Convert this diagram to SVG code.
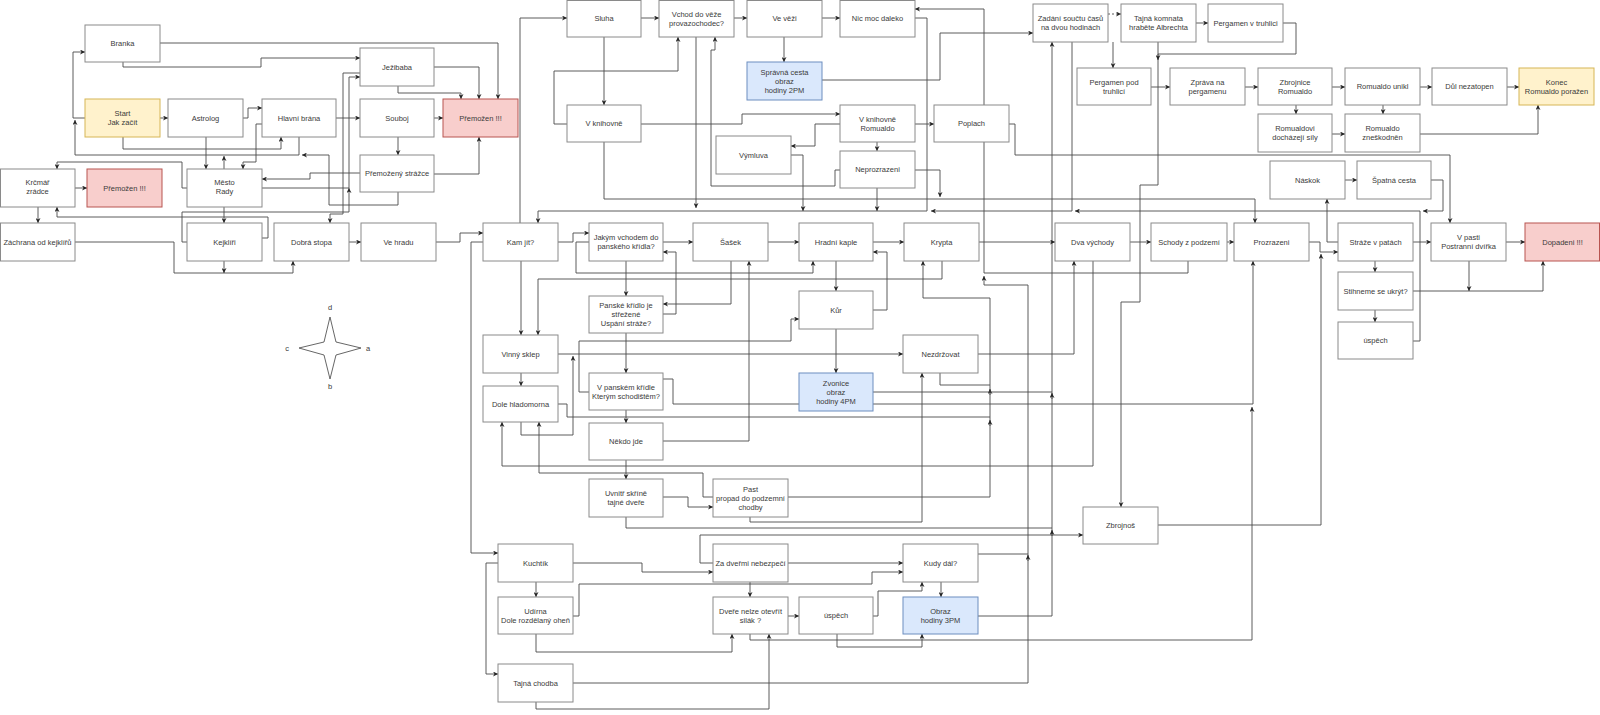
<svg xmlns="http://www.w3.org/2000/svg" width="1600" height="715" viewBox="0 0 1600 715">
<defs>
<marker id="a" viewBox="0 0 10 10" refX="10" refY="5" markerWidth="5" markerHeight="5" markerUnits="userSpaceOnUse" orient="auto"><path d="M0,0 L10,5 L0,10 L3,5 z" fill="#222"/></marker>
<style>
.node rect{fill:#fff;stroke:#8a8a8a;stroke-width:1}
.node.y rect{fill:#fff2cc;stroke:#d6b656}
.node.r rect{fill:#f8cecc;stroke:#b85450}
.node.b rect{fill:#dae8fc;stroke:#6c8ebf}
text{font-family:"Liberation Sans",Arial,sans-serif;font-size:7.5px;fill:#3a3a3a;text-anchor:middle}
#connectors path{fill:none;stroke:#4a4a4a;stroke-width:0.9}
#connectors path.m{marker-end:url(#a)}
#connectors path.d{stroke-dasharray:2,2}
</style>
</defs>
<rect width="1600" height="715" fill="#fff"/>
<g id="connectors">
<path class="m" d="M85,118 H73 V52 H85"/>
<path class="m" d="M160,43 H498 V99"/>
<path class="m" d="M123,62 V67 H261 V58 H360"/>
<path class="m" d="M160,118 H168"/>
<path class="m" d="M123,137 V149 H281 V137"/>
<path class="m" d="M243,118 H248 V108 H262"/>
<path class="m" d="M206,137 V169"/>
<path class="m" d="M224,169 V156"/>
<path class="m" d="M262,124 H256 V162 H243 V169"/>
<path class="m" d="M299,137 V155 H75 V120"/>
<path class="m" d="M398,192 V205 H329 V155 H302"/>
<path class="m" d="M75,188 H87"/>
<path class="m" d="M187,188 H182 V162 H57 V169"/>
<path class="m" d="M38,207 V223"/>
<path class="m" d="M262,238 H268 V217 H57 V207"/>
<path class="m" d="M187,242 H182 V212 H349 V188"/>
<path class="m" d="M262,188 H349 V77 H360"/>
<path class="m" d="M360,73 H343 V214 H330 V223"/>
<path class="m" d="M336,118 H360"/>
<path class="m" d="M398,137 V155"/>
<path class="m" d="M398,86 V93 H461 V99"/>
<path class="m" d="M434,67 H479 V99"/>
<path class="m" d="M434,118 H443"/>
<path class="m" d="M434,174 H479 V137"/>
<path class="m" d="M360,173 H310 V179 H262"/>
<path class="m" d="M75,242 H174 V273 H293 V261"/>
<path class="m" d="M224,261 V273"/>
<path class="m" d="M224,207 V223"/>
<path class="m" d="M349,242 H361"/>
<path class="m" d="M436,242 H460 V233 H483"/>
<path class="m" d="M520,223 V18 H567"/>
<path class="m" d="M641,18 H659"/>
<path class="m" d="M734,18 H747"/>
<path class="m" d="M784,37 V62"/>
<path class="m" d="M822,18 H840"/>
<path class="m" d="M604,37 V105"/>
<path class="m" d="M567,124 H554 V71 H678 V37"/>
<path class="m" d="M696,37 V208"/>
<path class="m" d="M915,18 H927 V211 H538 V223"/>
<path class="m" d="M840,170 H835 V186 H711 V50 H715 V37"/>
<path class="m" d="M641,124 H742 V114 H840"/>
<path class="m" d="M840,124 H815 V146 H791"/>
<path class="m" d="M791,155 H803 V211"/>
<path class="m" d="M604,142 V199 H1255 V223"/>
<path class="m" d="M915,170 H940 V197"/>
<path class="m" d="M877,142 V151"/>
<path class="m" d="M877,188 V211"/>
<path class="m" d="M915,124 H934"/>
<path class="m" d="M984,105 V9 H915"/>
<path class="m" d="M822,80 H940 V33 H1033"/>
<path class="m d" d="M1108,14 H1121"/>
<path class="m" d="M1113,42 V68"/>
<path class="m" d="M1158,42 V185 H1140 V302 H1121 V507"/>
<path class="m" d="M1283,23 H1296 V54 H1158 V60"/>
<path class="m" d="M1196,23 H1208"/>
<path class="m" d="M1151,87 H1170"/>
<path class="m" d="M978,616 H1052 V42"/>
<path class="m" d="M1072,42 V211 H931"/>
<path class="m" d="M1245,87 H1258"/>
<path class="m" d="M1332,87 H1345"/>
<path class="m" d="M1420,87 H1432"/>
<path class="m" d="M1507,87 H1519"/>
<path class="m" d="M1296,105 V114"/>
<path class="m" d="M1383,105 V114"/>
<path class="m" d="M1332,134 H1345"/>
<path class="m" d="M1420,134 H1538 V105"/>
<path class="m" d="M1009,124 H1015 V155 H1450 V223"/>
<path class="m" d="M1345,180 H1357"/>
<path class="m" d="M1338,242 H1327 V199"/>
<path class="m" d="M1413,242 H1431"/>
<path class="m" d="M1506,242 H1525"/>
<path class="m" d="M1375,261 V272"/>
<path class="m" d="M1375,310 V322"/>
<path class="m" d="M1413,291 H1543 V261"/>
<path class="m" d="M1469,261 V291"/>
<path class="m" d="M1309,242 H1320 V252 H1338"/>
<path class="m" d="M1158,525 H1321 V254"/>
<path class="m" d="M1413,341 H1420 V211 H1075"/>
<path class="m" d="M1431,180 H1443 V211 H1423"/>
<path class="m" d="M873,242 H904"/>
<path class="m" d="M979,242 H1055"/>
<path class="m" d="M1130,242 H1151"/>
<path class="m" d="M1227,242 H1234"/>
<path class="m" d="M836,261 V291"/>
<path class="m" d="M873,310 H887 V252 H873"/>
<path class="m" d="M836,329 V373"/>
<path class="m" d="M942,261 V279 H538 V335"/>
<path class="m" d="M589,242 H576 V273 H813 V261"/>
<path d="M984,142 V273 H1188 V261"/>
<path class="m" d="M573,683 H1028 V285 H984 V276"/>
<path class="m" d="M788,497 H990 V298 H923 V261"/>
<path d="M940,373 V385 H990"/>
<path class="m" d="M990,395 V389"/>
<path d="M558,404 H567 V417 H990"/>
<path class="m" d="M990,426 V420"/>
<path class="m" d="M978,354 H1074 V261"/>
<path class="m" d="M558,354 H903"/>
<path d="M873,392 H1052"/>
<path class="m" d="M1052,399 V393"/>
<path class="m" d="M1093,261 V466 H502 V422"/>
<path class="m" d="M750,517 V522 H922 V373"/>
<path d="M626,517 V528 H1052"/>
<path class="m" d="M1052,536 V530"/>
<path class="m" d="M713,563 H700 V535 H1083"/>
<path class="m" d="M573,563 H642 V572 H713"/>
<path class="m" d="M536,582 V597"/>
<path class="m" d="M498,563 H486 V674 H498"/>
<path class="m" d="M483,242 H471 V553 H498"/>
<path class="m" d="M573,616 H579 V584 H872 V572 H903"/>
<path class="m" d="M536,634 V652 H732 V634"/>
<path class="m" d="M750,582 V597"/>
<path class="m" d="M788,563 H903"/>
<path class="m" d="M788,616 H799"/>
<path class="m" d="M536,702 V709 H769 V634"/>
<path class="m" d="M873,616 H878 V591 H922 V582"/>
<path class="m" d="M837,634 V647 H922 V634"/>
<path class="m" d="M941,582 V597"/>
<path d="M978,554 H1028"/>
<path class="m" d="M1028,561 V555"/>
<path class="m" d="M750,634 V640 H1252 V407"/>
<path class="m" d="M663,379 H673 V404 H1253 V261"/>
<path class="m" d="M626,460 V479"/>
<path class="m" d="M663,441 H749 V261"/>
<path class="m" d="M713,497 H703 V473 H539 V422"/>
<path class="m" d="M521,422 V435 H573 V356"/>
<path class="m" d="M663,497 H688 V507 H713"/>
<path class="m" d="M558,242 H573 V233 H589"/>
<path class="m" d="M663,242 H693"/>
<path class="m" d="M768,242 H799"/>
<path class="m" d="M626,261 V296"/>
<path class="m" d="M626,333 V373"/>
<path class="m" d="M626,410 V423"/>
<path class="m" d="M521,261 V335"/>
<path class="m" d="M521,373 V386"/>
<path class="m" d="M731,261 V304 H663"/>
<path class="m" d="M663,314 H676 V252 H663"/>
<path class="m" d="M589,392 H579 V341 H791 V319 H799"/>
</g>
<g id="branka" class="node"><rect x="85" y="25" width="75" height="37"/><text x="122.5" y="46.2">Branka</text></g>
<g id="start" class="node y"><rect x="85" y="99" width="75" height="38"/><text x="122.5" y="116.2">Start</text><text x="122.5" y="125.2">Jak začít</text></g>
<g id="astrolog" class="node"><rect x="168" y="99" width="75" height="38"/><text x="205.5" y="120.7">Astrolog</text></g>
<g id="hlavni-brana" class="node"><rect x="262" y="99" width="74" height="38"/><text x="299" y="120.7">Hlavní brána</text></g>
<g id="jezibaba" class="node"><rect x="360" y="48" width="74" height="38"/><text x="397" y="69.7">Ježibaba</text></g>
<g id="souboj" class="node"><rect x="360" y="99" width="74" height="38"/><text x="397" y="120.7">Souboj</text></g>
<g id="premozen1" class="node r"><rect x="443" y="99" width="75" height="38"/><text x="480.5" y="120.7">Přemožen !!!</text></g>
<g id="premozeny-strazce" class="node"><rect x="360" y="155" width="74" height="37"/><text x="397" y="176.2">Přemožený strážce</text></g>
<g id="krcmar" class="node"><rect x="0.5" y="169" width="74.5" height="38"/><text x="37.5" y="185.2">Krčmář</text><text x="37.5" y="194.2">zrádce</text></g>
<g id="premozen2" class="node r"><rect x="87" y="169" width="75" height="38"/><text x="124.5" y="190.7">Přemožen !!!</text></g>
<g id="mesto" class="node"><rect x="187" y="169" width="75" height="38"/><text x="224.5" y="185.2">Město</text><text x="224.5" y="194.2">Rady</text></g>
<g id="zachrana" class="node"><rect x="0.5" y="223" width="74.5" height="38"/><text x="37.5" y="244.7">Záchrana od kejklířů</text></g>
<g id="kejkliri" class="node"><rect x="187" y="223" width="75" height="38"/><text x="224.5" y="244.7">Kejklíři</text></g>
<g id="dobra-stopa" class="node"><rect x="274" y="223" width="75" height="38"/><text x="311.5" y="244.7">Dobrá stopa</text></g>
<g id="ve-hradu" class="node"><rect x="361" y="223" width="75" height="38"/><text x="398.5" y="244.7">Ve hradu</text></g>
<g id="kam-jit" class="node"><rect x="483" y="223" width="75" height="38"/><text x="520.5" y="244.7">Kam jít?</text></g>
<g id="sluha" class="node"><rect x="567" y="0.5" width="74" height="36.5"/><text x="604" y="21.4">Sluha</text></g>
<g id="vchod" class="node"><rect x="659" y="0.5" width="75" height="36.5"/><text x="696.5" y="16.9">Vchod do věže</text><text x="696.5" y="25.9">provazochodec?</text></g>
<g id="ve-vezi" class="node"><rect x="747" y="0.5" width="75" height="36.5"/><text x="784.5" y="21.4">Ve věži</text></g>
<g id="nic-moc" class="node"><rect x="840" y="0.5" width="75" height="36.5"/><text x="877.5" y="21.4">Nic moc daleko</text></g>
<g id="spravna-cesta" class="node b"><rect x="747" y="62" width="75" height="38"/><text x="784.5" y="74.7">Správná cesta</text><text x="784.5" y="83.7">obraz</text><text x="784.5" y="92.7">hodiny 2PM</text></g>
<g id="v-knihovne" class="node"><rect x="567" y="105" width="74" height="37"/><text x="604" y="126.2">V knihovně</text></g>
<g id="v-knihovne-romualdo" class="node"><rect x="840" y="105" width="75" height="37"/><text x="877.5" y="121.7">V knihovně</text><text x="877.5" y="130.7">Romualdo</text></g>
<g id="vymluva" class="node"><rect x="716" y="136" width="75" height="38"/><text x="753.5" y="157.7">Výmluva</text></g>
<g id="neprozrazeni" class="node"><rect x="840" y="151" width="75" height="37"/><text x="877.5" y="172.2">Neprozrazeni</text></g>
<g id="poplach" class="node"><rect x="934" y="105" width="75" height="37"/><text x="971.5" y="126.2">Poplach</text></g>
<g id="zadani" class="node"><rect x="1033" y="4" width="75" height="38"/><text x="1070.5" y="21.2">Zadání součtu časů</text><text x="1070.5" y="30.2">na dvou hodinách</text></g>
<g id="tajna-komnata" class="node"><rect x="1121" y="4" width="75" height="38"/><text x="1158.5" y="21.2">Tajná komnata</text><text x="1158.5" y="30.2">hraběte Albrechta</text></g>
<g id="pergamen-truhlici" class="node"><rect x="1208" y="4" width="75" height="38"/><text x="1245.5" y="25.7">Pergamen v truhlici</text></g>
<g id="pergamen-pod" class="node"><rect x="1077" y="68" width="74" height="37"/><text x="1114" y="84.7">Pergamen pod</text><text x="1114" y="93.7">truhlicí</text></g>
<g id="zprava" class="node"><rect x="1170" y="68" width="75" height="37"/><text x="1207.5" y="84.7">Zpráva na</text><text x="1207.5" y="93.7">pergamenu</text></g>
<g id="zbrojnice" class="node"><rect x="1258" y="68" width="74" height="37"/><text x="1295" y="84.7">Zbrojnice</text><text x="1295" y="93.7">Romualdo</text></g>
<g id="unikl" class="node"><rect x="1345" y="68" width="75" height="37"/><text x="1382.5" y="89.2">Romualdo unikl</text></g>
<g id="dul" class="node"><rect x="1432" y="68" width="75" height="37"/><text x="1469.5" y="89.2">Důl nezatopen</text></g>
<g id="konec" class="node y"><rect x="1519" y="68" width="75" height="37"/><text x="1556.5" y="84.7">Konec</text><text x="1556.5" y="93.7">Romualdo poražen</text></g>
<g id="dochazeji" class="node"><rect x="1258" y="114" width="74" height="38"/><text x="1295" y="131.2">Romualdovi</text><text x="1295" y="140.2">docházejí síly</text></g>
<g id="zneskodnen" class="node"><rect x="1345" y="114" width="75" height="38"/><text x="1382.5" y="131.2">Romualdo</text><text x="1382.5" y="140.2">zneškodněn</text></g>
<g id="naskok" class="node"><rect x="1270" y="161" width="75" height="38"/><text x="1307.5" y="182.7">Náskok</text></g>
<g id="spatna-cesta" class="node"><rect x="1357" y="161" width="74" height="38"/><text x="1394" y="182.7">Špatná cesta</text></g>
<g id="jakym" class="node"><rect x="589" y="223" width="74" height="38"/><text x="626" y="240.2">Jakým vchodem do</text><text x="626" y="249.2">panského křídla?</text></g>
<g id="sasek" class="node"><rect x="693" y="223" width="75" height="38"/><text x="730.5" y="244.7">Šašek</text></g>
<g id="hradni-kaple" class="node"><rect x="799" y="223" width="74" height="38"/><text x="836" y="244.7">Hradní kaple</text></g>
<g id="krypta" class="node"><rect x="904" y="223" width="75" height="38"/><text x="941.5" y="244.7">Krypta</text></g>
<g id="dva-vychody" class="node"><rect x="1055" y="223" width="75" height="38"/><text x="1092.5" y="244.7">Dva východy</text></g>
<g id="schody" class="node"><rect x="1151" y="223" width="76" height="38"/><text x="1189" y="244.7">Schody z podzemí</text></g>
<g id="prozrazeni" class="node"><rect x="1234" y="223" width="75" height="38"/><text x="1271.5" y="244.7">Prozrazeni</text></g>
<g id="straze" class="node"><rect x="1338" y="223" width="75" height="38"/><text x="1375.5" y="244.7">Stráže v patách</text></g>
<g id="v-pasti" class="node"><rect x="1431" y="223" width="75" height="38"/><text x="1468.5" y="240.2">V pasti</text><text x="1468.5" y="249.2">Postranní dvířka</text></g>
<g id="dopadeni" class="node r"><rect x="1525" y="223" width="74.5" height="38"/><text x="1562.5" y="244.7">Dopadeni !!!</text></g>
<g id="panske" class="node"><rect x="589" y="296" width="74" height="37"/><text x="626" y="308.2">Panské křídlo je</text><text x="626" y="317.2">střežené</text><text x="626" y="326.2">Uspání stráže?</text></g>
<g id="kur" class="node"><rect x="799" y="291" width="74" height="38"/><text x="836" y="312.7">Kůr</text></g>
<g id="vinny-sklep" class="node"><rect x="483" y="335" width="75" height="38"/><text x="520.5" y="356.7">Vinný sklep</text></g>
<g id="nezdrzovat" class="node"><rect x="903" y="335" width="75" height="38"/><text x="940.5" y="356.7">Nezdržovat</text></g>
<g id="stihneme" class="node"><rect x="1338" y="272" width="75" height="38"/><text x="1375.5" y="293.7">Stihneme se ukrýt?</text></g>
<g id="uspech1" class="node"><rect x="1338" y="322" width="75" height="37"/><text x="1375.5" y="343.2">úspěch</text></g>
<g id="v-panskem" class="node"><rect x="589" y="373" width="74" height="37"/><text x="626" y="389.7">V panském křídle</text><text x="626" y="398.7">Kterým schodištěm?</text></g>
<g id="zvonice" class="node b"><rect x="799" y="373" width="74" height="38"/><text x="836" y="385.7">Zvonice</text><text x="836" y="394.7">obraz</text><text x="836" y="403.7">hodiny 4PM</text></g>
<g id="dole-hladomorna" class="node"><rect x="483" y="386" width="75" height="36"/><text x="520.5" y="406.7">Dole hladomorna</text></g>
<g id="nekdo-jde" class="node"><rect x="589" y="423" width="74" height="37"/><text x="626" y="444.2">Někdo jde</text></g>
<g id="uvnitr" class="node"><rect x="589" y="479" width="74" height="38"/><text x="626" y="496.2">Uvnitř skříně</text><text x="626" y="505.2">tajné dveře</text></g>
<g id="past" class="node"><rect x="713" y="479" width="75" height="38"/><text x="750.5" y="491.7">Past</text><text x="750.5" y="500.7">propad do podzemní</text><text x="750.5" y="509.7">chodby</text></g>
<g id="zbrojnos" class="node"><rect x="1083" y="507" width="75" height="37"/><text x="1120.5" y="528.2">Zbrojnoš</text></g>
<g id="kuchtik" class="node"><rect x="498" y="544" width="75" height="38"/><text x="535.5" y="565.7">Kuchtík</text></g>
<g id="za-dvermi" class="node"><rect x="713" y="544" width="75" height="38"/><text x="750.5" y="565.7">Za dveřmi nebezpečí</text></g>
<g id="kudy-dal" class="node"><rect x="903" y="544" width="75" height="38"/><text x="940.5" y="565.7">Kudy dál?</text></g>
<g id="udirna" class="node"><rect x="498" y="597" width="75" height="37"/><text x="535.5" y="613.7">Udírna</text><text x="535.5" y="622.7">Dole rozdělaný oheň</text></g>
<g id="dvere" class="node"><rect x="713" y="597" width="75" height="37"/><text x="750.5" y="613.7">Dveře nelze otevřít</text><text x="750.5" y="622.7">silák ?</text></g>
<g id="uspech2" class="node"><rect x="799" y="597" width="74" height="37"/><text x="836" y="618.2">úspěch</text></g>
<g id="obraz-3pm" class="node b"><rect x="903" y="597" width="75" height="37"/><text x="940.5" y="613.7">Obraz</text><text x="940.5" y="622.7">hodiny 3PM</text></g>
<g id="tajna-chodba" class="node"><rect x="498" y="664" width="75" height="38"/><text x="535.5" y="685.7">Tajná chodba</text></g>
<g id="compass">
<polygon points="330,317 336,342 361,348 336,355 330,379 324,355 299,348 324,342" fill="#fff" stroke="#555" stroke-width="0.9"/>
<text x="330" y="310">d</text>
<text x="368" y="351">a</text>
<text x="287" y="351">c</text>
<text x="330" y="389">b</text>
</g>
</svg>
